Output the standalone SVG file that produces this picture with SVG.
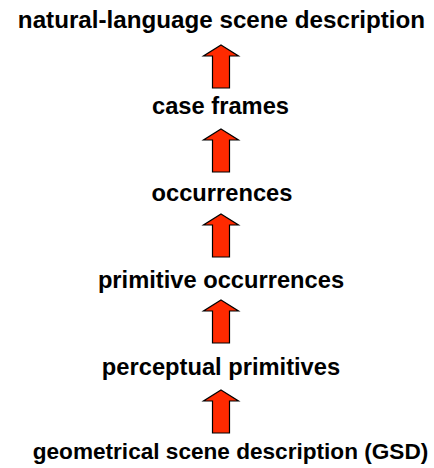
<svg xmlns="http://www.w3.org/2000/svg" width="434" height="468" viewBox="0 0 434 468">
<defs>
<style>
.t{font-family:"Liberation Sans",Arial,Helvetica,sans-serif;font-weight:bold;font-size:23.7px;fill:#000;text-anchor:middle}
.a{fill:#ff2a00;stroke:#000;stroke-width:1.2;stroke-linejoin:miter}
</style>
<path id="arr" d="M0,0 L17.5,11 L8.5,11 L8.5,43 L-8.5,43 L-8.5,11 L-17.5,11 Z"/>
</defs>
<rect width="434" height="468" fill="#fff"/>
<g id="node-nl"><text class="t" x="221.5" y="28" style="font-size:24.2px">natural-language scene description</text></g>
<g id="node-cf"><text class="t" x="220.5" y="114">case frames</text></g>
<g id="node-occ"><text class="t" x="222" y="200.5">occurrences</text></g>
<g id="node-prim-occ"><text class="t" x="221" y="288">primitive occurrences</text></g>
<g id="node-perc"><text class="t" x="221" y="375">perceptual primitives</text></g>
<g id="node-gsd"><text class="t" x="230.5" y="459" style="font-size:22.6px">geometrical scene description (GSD)</text></g>
<g id="connectors">
<use href="#arr" class="a" x="221" y="45"/>
<use href="#arr" class="a" x="221" y="129"/>
<use href="#arr" class="a" x="221" y="214"/>
<use href="#arr" class="a" x="221" y="300"/>
<use href="#arr" class="a" x="221" y="390"/>
</g>
</svg>
